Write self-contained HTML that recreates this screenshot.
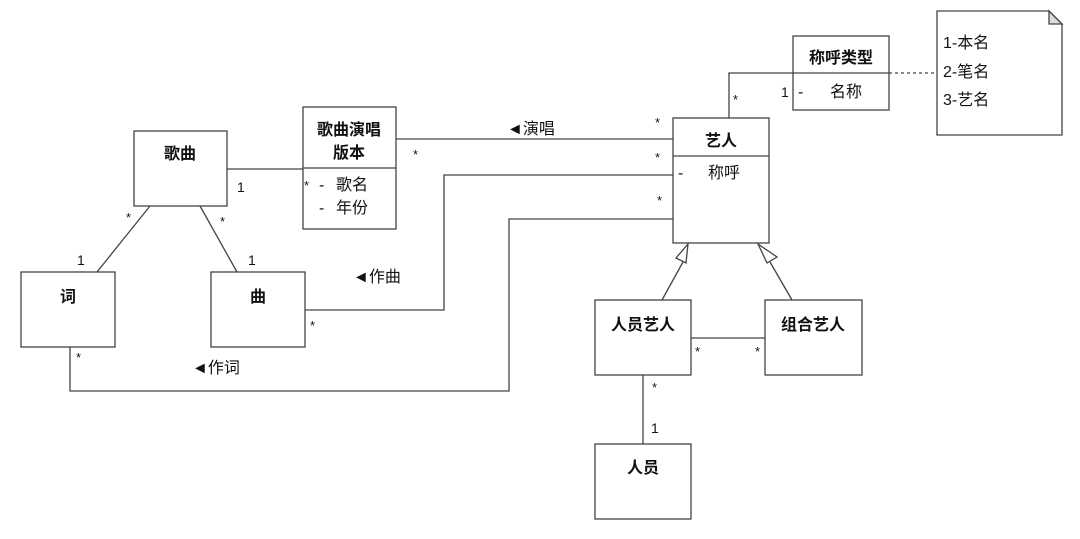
<!DOCTYPE html>
<html><head><meta charset="utf-8"><style>
html,body{margin:0;padding:0;background:#fff;}
svg{display:block;}
text{font-family:"Liberation Sans","Noto Sans CJK SC",sans-serif;fill:#111;}
.b{font-weight:bold;font-size:16px;}
.t{font-size:16px;}
.s{font-size:14px;}
.a{font-size:13px;}
</style></head><body>
<svg width="1080" height="539" viewBox="0 0 1080 539" xmlns="http://www.w3.org/2000/svg">
<g fill="#fff" stroke="#444" stroke-width="1.3">
<rect x="134" y="131" width="93" height="75"/>
<rect x="303" y="107" width="93" height="122"/>
<line x1="303" y1="168" x2="396" y2="168"/>
<rect x="21" y="272" width="94" height="75"/>
<rect x="211" y="272" width="94" height="75"/>
<rect x="673" y="118" width="96" height="125"/>
<line x1="673" y1="156" x2="769" y2="156"/>
<rect x="793" y="36" width="96" height="74"/>
<line x1="793" y1="73" x2="889" y2="73"/>
<path d="M937 11 H1049 L1062 24 V135 H937 Z"/>
<path d="M1049 11 V24 H1062 Z" fill="#ddd"/>
<rect x="595" y="300" width="96" height="75"/>
<rect x="765" y="300" width="97" height="75"/>
<rect x="595" y="444" width="96" height="75"/>
</g>
<g fill="none" stroke="#444" stroke-width="1.3">
<line x1="227" y1="169" x2="303" y2="169"/>
<line x1="396" y1="139" x2="673" y2="139"/>
<polyline points="305,310 444,310 444,175 673,175"/>
<polyline points="70,347 70,391 509,391 509,219 673,219"/>
<polyline points="729,118 729,73 793,73"/>
<line x1="889" y1="73" x2="937" y2="73" stroke-dasharray="3,3"/>
<line x1="150" y1="206" x2="97" y2="272"/>
<line x1="200" y1="206" x2="237" y2="272"/>
<line x1="662" y1="300" x2="683" y2="262"/>
<path d="M688 244 L676 258 L686 263 Z" fill="#fff"/>
<line x1="792" y1="300" x2="770" y2="262"/>
<path d="M758 244 L767 263 L777 257 Z" fill="#fff"/>
<line x1="691" y1="338" x2="765" y2="338"/>
<line x1="643" y1="375" x2="643" y2="444"/>
</g>
<text class="b" x="180" y="159" text-anchor="middle">歌曲</text>
<text class="b" x="349" y="135" text-anchor="middle">歌曲演唱</text>
<text class="b" x="349" y="158" text-anchor="middle">版本</text>
<text class="t" x="319" y="190">-</text><text class="t" x="336" y="190">歌名</text>
<text class="t" x="319" y="213">-</text><text class="t" x="336" y="213">年份</text>
<text class="b" x="68" y="302" text-anchor="middle">词</text>
<text class="b" x="258" y="302" text-anchor="middle">曲</text>
<text class="b" x="721" y="146" text-anchor="middle">艺人</text>
<text class="t" x="678" y="178">-</text><text class="t" x="708" y="178">称呼</text>
<text class="b" x="841" y="63" text-anchor="middle">称呼类型</text>
<text class="t" x="798" y="97">-</text><text class="t" x="830" y="97">名称</text>
<text class="t" x="943" y="48">1-本名</text>
<text class="t" x="943" y="77">2-笔名</text>
<text class="t" x="943" y="105">3-艺名</text>
<text class="b" x="643" y="330" text-anchor="middle">人员艺人</text>
<text class="b" x="813" y="330" text-anchor="middle">组合艺人</text>
<text class="b" x="643" y="473" text-anchor="middle">人员</text>
<text class="t" x="507" y="134">◄演唱</text>
<text class="t" x="353" y="282">◄作曲</text>
<text class="t" x="192" y="373">◄作词</text>
<g class="s">
<text x="237" y="192">1</text><text x="77" y="265">1</text><text x="248" y="265">1</text>
<text x="781" y="97">1</text><text x="651" y="433">1</text>
</g>
<g class="a">
<text x="304" y="190">*</text>
<text x="126" y="222">*</text>
<text x="220" y="226">*</text>
<text x="413" y="159">*</text>
<text x="655" y="127">*</text><text x="655" y="162">*</text><text x="657" y="205">*</text>
<text x="310" y="330">*</text><text x="76" y="362">*</text>
<text x="733" y="104">*</text>
<text x="695" y="356">*</text><text x="755" y="356">*</text>
<text x="652" y="392">*</text>
</g>
</svg>
</body></html>
